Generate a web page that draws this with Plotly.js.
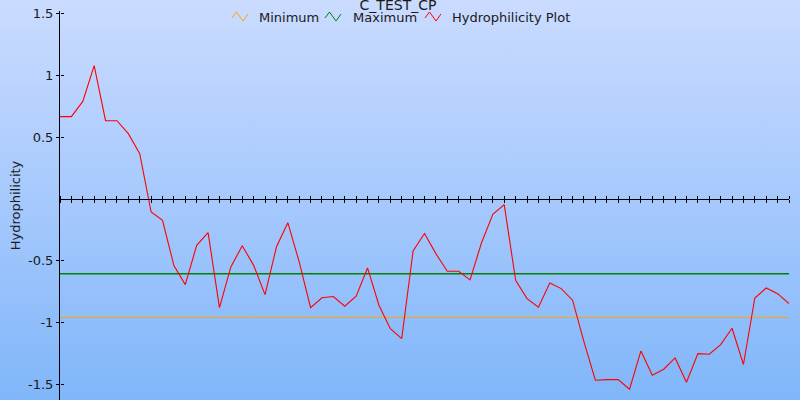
<!DOCTYPE html>
<html>
<head>
<meta charset="utf-8">
<script src="https://cdn.plot.ly/plotly-3.0.1.min.js"></script>
<style>
  html, body { margin: 0; padding: 0; }
  #chart { width: 800px; height: 400px; background: linear-gradient(to bottom, #cadbff 0%, #a6c9fd 50%, #80b6f9 100%); }
</style>
</head>
<body>
<div id="chart"></div>
<script>
// ---- data ----
const chartTitle = 'C_TEST_CP';
const yTitle = 'Hydrophilicity';
const seriesNames = ['Minimum', 'Maximum', 'Hydrophilicity Plot'];
const hydrophilicity = [
  0.665, 0.665, 0.788, 1.077, 0.632, 0.632, 0.527, 0.365, -0.107, -0.174,
  -0.54, -0.694, -0.376, -0.273, -0.88, -0.551, -0.379, -0.538, -0.775, -0.39,
  -0.193, -0.51, -0.88, -0.80, -0.79, -0.869, -0.788, -0.559, -0.861, -1.05,
  -1.13, -0.422, -0.281, -0.443, -0.586, -0.586, -0.656, -0.357, -0.125, -0.047,
  -0.659, -0.807, -0.877, -0.68, -0.726, -0.82, -1.157, -1.467, -1.462, -1.462,
  -1.54, -1.23, -1.427, -1.378, -1.287, -1.483, -1.252, -1.257, -1.179, -1.047,
  -1.34, -0.802, -0.721, -0.767, -0.847
];
const positions = hydrophilicity.map((_, i) => i + 1);
const minimumValue = -0.96;
const maximumValue = -0.605;
const yTickVals = [-1.5, -1, -0.5, 0.5, 1, 1.5];
const yTickText = ['-1.5', '-1', '-0.5', '0.5', '1', '1.5'];

// ---- layout helpers ----
const W = 800, H = 400;
const M = { l: 60, r: 11, t: 11, b: 0 };
const plotW = W - M.l - M.r, plotH = H - M.t - M.b;
const px = x => (x - M.l) / plotW;
const py = y => (H - M.b - y) / plotH;
const FONT = 'DejaVu Sans, Verdana, sans-serif';
const TXT = '#1a1a1a';
const colors = ['#ffa500', '#008000', '#ff0000'];

const xFirst = positions[0], xLast = positions[positions.length - 1];
const yRange = [-1.627, 1.519];
const zeroFrac = (0 - yRange[0]) / (yRange[1] - yRange[0]);

const traces = [
  { x: [xFirst, xLast], y: [minimumValue, minimumValue], name: seriesNames[0], mode: 'lines',
    line: { color: colors[0], width: 1 }, hoverinfo: 'y+name' },
  { x: [xFirst, xLast], y: [maximumValue, maximumValue], name: seriesNames[1], mode: 'lines',
    line: { color: colors[1], width: 1.5 }, hoverinfo: 'y+name' },
  { x: positions, y: hydrophilicity, name: seriesNames[2], mode: 'lines',
    line: { color: colors[2], width: 1.1 } },
  { x: [], y: [], xaxis: 'x2', yaxis: 'y2', showlegend: false, hoverinfo: 'skip' }
];

// custom legend (zigzag symbols + labels)
const legendItems = [
  { sx: 232, tx: 257 },
  { sx: 325, tx: 351 },
  { sx: 425, tx: 450 }
];
const shapes = legendItems.map((it, i) => {
  const pts = [[it.sx, 18], [it.sx + 4.5, 12], [it.sx + 11, 21], [it.sx + 16, 14]];
  return {
    type: 'path', xref: 'paper', yref: 'paper',
    path: 'M' + pts.map(p => px(p[0]).toFixed(5) + ',' + py(p[1]).toFixed(5)).join(' L'),
    line: { color: colors[i], width: 1 }
  };
});
const annotations = legendItems.map((it, i) => ({
  xref: 'paper', yref: 'paper', x: px(it.tx), y: py(18), xanchor: 'left', yanchor: 'middle',
  text: seriesNames[i], showarrow: false, font: { family: FONT, size: 13, color: TXT }
}));

const commonX = {
  range: [xFirst, xLast], showgrid: false, zeroline: false, showticklabels: false,
  tickmode: 'linear', tick0: xFirst, dtick: 1, ticklen: 3, tickwidth: 1, tickcolor: '#000',
  anchor: 'free', position: zeroFrac, fixedrange: true
};
const commonY = {
  range: yRange, showgrid: false, zeroline: false, tickmode: 'array',
  tickvals: yTickVals, ticktext: yTickText, ticklen: 3, tickwidth: 1, tickcolor: '#000'
};

const layout = {
  width: W, height: H,
  margin: M,
  paper_bgcolor: 'rgba(0,0,0,0)', plot_bgcolor: 'rgba(0,0,0,0)',
  font: { family: FONT, size: 13, color: TXT },
  showlegend: false,
  title: { text: chartTitle, font: { family: FONT, size: 14, color: TXT },
           x: 0.4975, xanchor: 'center', y: 0.9875, yref: 'container', yanchor: 'middle' },
  xaxis: Object.assign({}, commonX, { ticks: 'outside', side: 'bottom', showline: true, linecolor: '#000', linewidth: 1.5 }),
  xaxis2: Object.assign({}, commonX, { overlaying: 'x', ticks: 'outside', side: 'top', showline: false }),
  yaxis: Object.assign({}, commonY, {
    ticks: 'outside', showline: true, linecolor: '#000', linewidth: 1,
    tickfont: { family: FONT, size: 13, color: TXT }, ticklabelstandoff: 0,
    title: { text: yTitle, font: { family: FONT, size: 13, color: TXT }, standoff: 4 }
  }),
  yaxis2: Object.assign({}, commonY, { overlaying: 'y', side: 'right', anchor: 'free', position: 0,
    ticks: 'outside', showline: false, showticklabels: false }),
  shapes: shapes,
  annotations: annotations
};

Plotly.newPlot('chart', traces, layout, { displayModeBar: false, staticPlot: true });
</script>
</body>
</html>
